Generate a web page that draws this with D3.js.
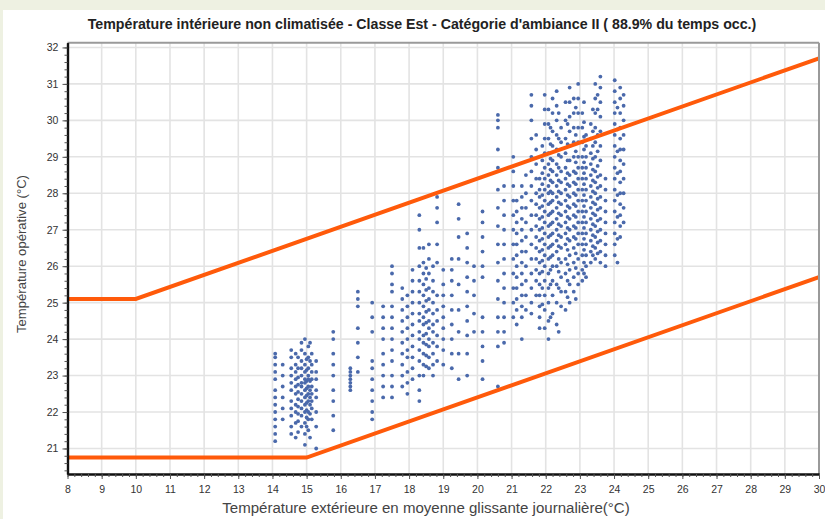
<!DOCTYPE html>
<html><head><meta charset="utf-8">
<script src="https://cdn.jsdelivr.net/npm/d3@7"></script>
<style>html,body{margin:0;padding:0;background:#eef1e2;}svg{display:block;}</style>
</head><body>
<svg id="c" width="825" height="519"></svg>
<script>
const titleText = "Température intérieure non climatisée  - Classe Est - Catégorie d'ambiance II ( 88.9% du temps occ.)";
const xLabel = "Température extérieure en moyenne glissante journalière(°C)";
const yLabel = "Température opérative (°C)";
const xTicks = d3.range(8, 31, 1);
const yTicks = d3.range(21, 33, 1);
const upperLimitX = [8, 10, 30];
const upperLimitY = [25.1, 25.1, 31.7];
const lowerLimitX = [8, 15, 30];
const lowerLimitY = [20.75, 20.75, 25.7];
// outdoor running-mean temperature of each day (one column of points per day)
const outdoorTemp = [14.08,14.3,14.55,14.68,14.85,14.95,15.05,15.15,15.28,15.78,16.28,16.5,16.92,
 17.24,17.5,17.8,17.95,18.1,18.3,18.42,18.58,18.7,18.82,19.0,19.25,19.45,19.7,19.9,20.15,20.6,20.78,
 21.05,21.15,21.3,21.42,21.58,21.72,21.82,21.97,22.08,22.2,22.32,22.45,22.58,22.7,22.82,22.95,23.07,23.18,23.32,23.45,23.6,23.75,24.02,24.18,24.28,
 14.75,15.0,15.1,18.5,21.9,22.14,22.38,22.64,22.88,23.12,23.38,23.52,24.1];
// operative indoor temperatures of the occupied hours of each day
const indoorTemp = [
 [23.6,23.5,23.3,23.1,22.9,22.6,22.4,22.2,22.0,21.8,21.6,21.4,21.2],
 [23.3,23.0,22.7,22.4,22.1,21.8],
 [23.7,23.5,23.2,23.0,22.8,22.6,22.3,22.1,21.9,21.6,21.4],
 [23.6,23.3,23.1,22.9,22.7,22.5,22.2,22.0,21.7,21.3],
 [23.9,23.7,23.4,23.2,23.0,22.8,22.7,22.5,22.3,22.1,21.9,21.6],
 [24.0,23.6,23.3,23.1,22.9,22.8,22.6,22.4,22.2,22.0,21.7,21.4,21.1],
 [23.8,23.5,23.2,23.0,22.9,22.7,22.5,22.3,22.0,21.8,21.5],
 [23.6,23.3,23.1,22.9,22.7,22.5,22.3,22.1,21.8],
 [23.4,23.1,22.9,22.6,22.4,22.0,21.6,21.0],
 [24.2,24.0,23.6,23.3,23.0,22.6,22.3,21.9,21.5],
 [23.2,23.1,23.0,22.9,22.8,22.7,22.6],
 [25.3,25.1,24.9,24.3,23.9,23.5,23.1],
 [25.0,24.6,24.2,23.4,23.2,22.9,22.6,22.3,22.0,21.8],
 [24.9,24.6,24.3,24.0,23.6,23.3,23.0,22.7,22.4],
 [26.0,25.8,25.5,25.3,24.9,24.6,24.3,24.0,23.7,23.4,23.0,22.7,22.4],
 [25.4,25.1,24.8,24.5,24.2,23.9,23.6,23.3,23.0,22.7],
 [25.2,24.9,24.6,24.3,24.0,23.7,23.5,23.1,22.8,22.5],
 [25.9,25.6,25.3,25.0,24.7,24.4,24.1,23.8,23.5,23.2,22.9],
 [27.4,27.0,26.5,26.0,25.6,25.3,25.0,24.7,24.5,24.2,24.0,23.7,23.4,23.0,22.6,22.3],
 [26.5,26.1,25.8,25.5,25.2,24.9,24.6,24.4,24.1,23.9,23.6,23.3,23.0],
 [26.6,26.2,25.8,25.4,25.1,24.8,24.5,24.3,24.0,23.8,23.5,23.2],
 [26.0,25.6,25.3,25.0,24.7,24.4,24.2,23.9,23.6,23.3,23.0],
 [27.9,27.6,27.2,26.6,26.1,25.2,24.8,24.5,24.1,23.8,23.4],
 [25.9,25.5,25.2,24.9,24.6,24.3,24.0,23.7,23.3],
 [26.2,25.9,25.6,25.2,24.8,24.4,24.0,23.6,23.2],
 [27.7,27.3,26.8,26.2,25.5,24.8,24.2,23.6,22.9],
 [26.9,26.5,26.1,25.7,25.3,24.9,24.5,24.1,23.6,23.0],
 [26.0,25.6,25.2,24.7,24.2],
 [27.5,27.2,26.8,26.4,26.0,25.7,24.6,24.2,23.8,23.4,22.9],
 [30.15,30.0,29.8,29.2,28.7,28.1,27.6,27.1,26.6,26.1,25.6,25.1,24.6,24.2,23.8,22.7],
 [28.2,27.8,27.4,27.0,26.6,26.2,25.8,25.4,25.0,24.6,24.2,23.9],
 [29.0,28.6,28.2,27.8,27.4,27.0,26.6,26.2,25.8,25.4,25.0,24.6],
 [27.8,27.5,27.2,26.9,26.6,26.3,26.0,25.7,25.4,25.1,24.8,24.4],
 [28.2,27.9,27.6,27.3,27.0,26.7,26.4,26.1,25.8,25.5,25.2,24.9,24.6,24.0],
 [28.5,28.0,27.6,27.2,26.8,26.4,26.0,25.6,25.2,24.8],
 [30.7,30.4,30.0,29.5,29.0,28.6,28.2,27.8,27.4,27.0,26.6,26.2,25.8,25.4,25.0,24.7],
 [29.6,29.2,28.8,28.4,28.0,27.7,27.4,27.1,26.8,26.5,26.2,25.9,25.6,25.2],
 [28.4,28.1,27.9,27.6,27.3,27.0,26.7,26.4,26.1,25.8,25.5,25.2,24.9,24.6,24.3],
 [30.7,30.3,29.9,29.5,29.1,28.7,28.4,28.1,27.8,27.5,27.2,26.9,26.6,26.3,26.0,25.6,25.2,24.8,24.3],
 [30.3,29.9,29.5,29.1,28.8,28.5,28.2,28.0,27.7,27.4,27.1,26.8,26.5,26.2,25.8,25.4,25.0,24.5,24.0],
 [30.6,30.2,29.7,29.3,28.9,28.6,28.3,28.0,27.8,27.5,27.2,26.9,26.6,26.3,26.0,25.6,25.2,24.7],
 [30.8,30.4,30.0,29.6,29.2,28.8,28.5,28.2,27.9,27.6,27.3,27.0,26.7,26.4,26.0,25.5,25.0,24.4],
 [29.8,29.4,29.0,28.6,28.3,28.0,27.7,27.4,27.1,26.8,26.5,26.1,25.7,25.3,24.9],
 [30.5,30.0,29.5,29.1,28.7,28.4,28.1,27.8,27.5,27.2,26.9,26.6,26.2,25.8,25.3,24.8],
 [30.9,30.5,30.1,29.7,29.3,28.9,28.5,28.2,27.9,27.6,27.3,27.0,26.7,26.3,25.9,25.5,25.0],
 [30.6,30.2,29.8,29.4,29.0,28.6,28.3,28.0,27.7,27.4,27.1,26.8,26.5,26.1,25.7,25.3],
 [31.0,30.6,30.2,29.8,29.4,29.0,28.7,28.4,28.1,27.8,27.5,27.2,26.9,26.6,26.2,25.8,25.5],
 [30.2,29.8,29.4,29.0,28.7,28.4,28.1,27.8,27.5,27.2,26.9,26.6,26.3,25.9,25.6],
 [29.6,29.3,29.0,28.7,28.4,28.1,27.8,27.5,27.2,26.9,26.6,26.3,26.0,25.7],
 [29.9,29.5,29.1,28.8,28.5,28.2,27.9,27.6,27.3,27.0,26.7,26.4,26.1],
 [31.0,30.6,30.2,29.8,29.4,29.0,28.6,28.3,28.0,27.7,27.4,27.1,26.8,26.5,26.2],
 [31.2,30.9,30.5,30.1,29.7,29.3,28.9,28.5,28.2,27.9,27.6,27.3,27.0,26.7,26.4,26.1],
 [28.4,28.1,27.8,27.5,27.2,26.9,26.6,26.3,26.0],
 [31.1,30.8,30.5,30.2,29.9,29.6,29.3,29.0,28.7,28.4,28.1,27.8,27.5,27.2,26.9,26.6,26.3],
 [30.9,30.6,30.2,29.8,29.5,29.2,28.9,28.6,28.3,28.0,27.7,27.4,27.1,26.8],
 [30.7,30.4,30.0,29.6,29.2,28.8,28.4,28.0,27.6,27.2],
 [23.5,23.2,22.95,22.75,22.55,22.35,22.15,21.95,21.75,21.45],
 [23.45,23.15,22.85,22.65,22.45,22.25,22.05,21.85,21.6],
 [23.9,23.4,22.85,22.6,22.4,22.2,21.95,21.3],
 [25.95,25.65,25.35,25.05,24.75,24.45,24.15,23.85,23.55,23.25],
 [29.3,28.9,28.55,28.25,27.95,27.65,27.35,27.05,26.75,26.45,26.15,25.85,25.4,24.95],
 [29.8,29.35,28.95,28.65,28.35,28.05,27.75,27.45,27.15,26.85,26.55,26.25,25.9,25.5,24.6],
 [30.2,29.5,29.05,28.7,28.35,28.05,27.75,27.45,27.15,26.85,26.55,26.2,25.85,25.4,24.2],
 [29.9,29.35,28.9,28.55,28.25,27.95,27.65,27.35,27.05,26.75,26.45,26.05,25.6,25.15],
 [30.35,29.6,29.15,28.85,28.55,28.25,27.95,27.65,27.35,27.05,26.75,26.35,25.95,25.1],
 [30.5,29.95,29.55,29.2,28.85,28.55,28.25,27.95,27.65,27.35,27.05,26.75,26.45,26.1,25.8],
 [30.3,29.7,29.3,28.95,28.65,28.35,28.05,27.75,27.45,27.15,26.85,26.55,26.3],
 [30.7,30.3,29.6,29.15,28.75,28.45,28.15,27.85,27.55,27.25,26.95,26.65,26.35],
 [30.35,29.75,29.15,28.55,27.95,27.35,26.75,26.1]
];

const svg = d3.select("#c");
const L = 67.5, R = 819, T = 42.7, B = 474;
const x = d3.scaleLinear().domain([8, 30]).range([L, R]);
const y = d3.scaleLinear().domain([20.3, 32.13]).range([B, T]);

svg.append("rect").attr("x", 3).attr("y", 10).attr("width", 822).attr("height", 509).attr("fill", "#fff");

// grid
const grid = svg.append("g").attr("stroke", "#e3e3e3").attr("stroke-width", 1.6);
grid.selectAll(".gx").data(xTicks.slice(1, -1)).join("line")
  .attr("x1", d => x(d)).attr("x2", d => x(d)).attr("y1", T).attr("y2", B);
grid.selectAll(".gy").data(yTicks).join("line")
  .attr("y1", d => y(d)).attr("y2", d => y(d)).attr("x1", L).attr("x2", R);

svg.append("defs").append("clipPath").attr("id", "clip")
  .append("rect").attr("x", L).attr("y", T).attr("width", R - L).attr("height", B - T);

// points
const pts = [];
outdoorTemp.forEach((t, i) => indoorTemp[i].forEach(v => pts.push([t, v])));
svg.append("g").attr("fill", "#4a69ab").selectAll("circle").data(pts).join("circle")
  .attr("cx", d => x(d[0])).attr("cy", d => y(d[1])).attr("r", 1.9);

// comfort limit lines
const line = d3.line().x(d => x(d[0])).y(d => y(d[1]));
const lines = svg.append("g").attr("clip-path", "url(#clip)");
lines.append("path").datum(upperLimitX.map((v, i) => [v, upperLimitY[i]]))
  .attr("d", line).attr("fill", "none").attr("stroke", "#ff5a0a").attr("stroke-width", 4);
lines.append("path").datum(lowerLimitX.map((v, i) => [v, lowerLimitY[i]]))
  .attr("d", line).attr("fill", "none").attr("stroke", "#ff5a0a").attr("stroke-width", 4);

// frame
svg.append("line").attr("x1", L).attr("x2", R).attr("y1", T).attr("y2", T).attr("stroke", "#9a9a9a").attr("stroke-width", 2);
svg.append("line").attr("x1", R).attr("x2", R).attr("y1", T).attr("y2", B).attr("stroke", "#9a9a9a").attr("stroke-width", 2);

// axes
const font = "Liberation Sans, Arial, sans-serif";
const xAxis = svg.append("g").attr("transform", `translate(0,${B})`)
  .call(d3.axisBottom(x).tickValues(xTicks).tickFormat(d3.format("d")).tickSize(5).tickSizeOuter(0));
const xMinor = svg.append("g").attr("transform", `translate(0,${B})`)
  .call(d3.axisBottom(x).tickValues(d3.range(8, 30.01, 0.2)).tickFormat("").tickSize(3).tickSizeOuter(0));
const yAxis = svg.append("g").attr("transform", `translate(${L},0)`)
  .call(d3.axisLeft(y).tickValues(yTicks).tickFormat(d3.format("d")).tickSize(5).tickSizeOuter(0));
const yMinor = svg.append("g").attr("transform", `translate(${L},0)`)
  .call(d3.axisLeft(y).tickValues(d3.range(20.4, 32.01, 0.2)).tickFormat("").tickSize(3).tickSizeOuter(0));
[xAxis, yAxis, xMinor, yMinor].forEach(g => {
  g.select(".domain").attr("stroke", "#111").attr("stroke-width", 2.2);
  g.selectAll(".tick line").attr("stroke", "#555");
  g.selectAll("text").attr("font-family", font).attr("font-size", 10.5).attr("fill", "#333");
});
xAxis.selectAll("text").attr("dy", "1.05em");
yAxis.selectAll("text").attr("dx", "-0.1em");

// texts
function fit(sel, w) {
  const len = sel.node().getComputedTextLength();
  const fs = parseFloat(sel.attr("font-size"));
  sel.attr("font-size", fs * w / len);
}
const title = svg.append("text").attr("x", 422).attr("y", 29).attr("text-anchor", "middle")
  .attr("font-family", font).attr("font-weight", "bold").attr("font-size", 12).attr("fill", "#222")
  .text(titleText);
fit(title, 669);
const xt = svg.append("text").attr("x", 426).attr("y", 513).attr("text-anchor", "middle")
  .attr("font-family", font).attr("font-size", 10.5).attr("fill", "#444").text(xLabel);
fit(xt, 408);
const yt = svg.append("text").attr("transform", "translate(26,254) rotate(-90)").attr("text-anchor", "middle")
  .attr("font-family", font).attr("font-size", 10.5).attr("fill", "#444").text(yLabel);
fit(yt, 158);
</script>
</body></html>
